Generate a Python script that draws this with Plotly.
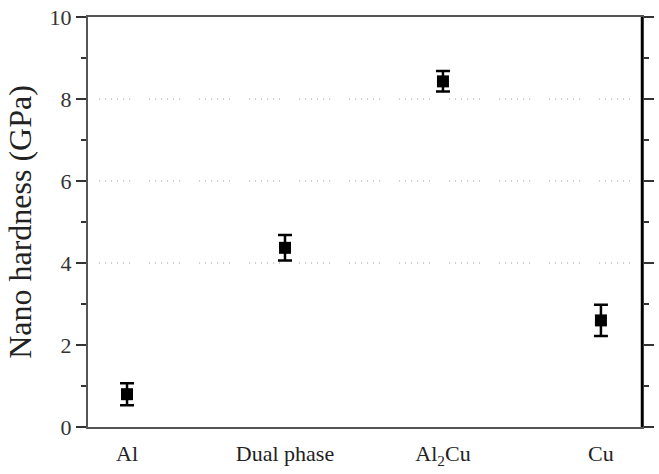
import plotly.graph_objects as go

categories = ["Al", "Dual phase", "Al<sub>2</sub>Cu", "Cu"]
hardness = [0.80, 4.37, 8.43, 2.60]
hardness_err = [0.27, 0.31, 0.25, 0.38]
grid_levels = [4, 6, 8]
y_ticks = [0, 2, 4, 6, 8, 10]

xpos = list(range(len(categories)))

fig = go.Figure()
fig.add_trace(go.Scatter(
    x=xpos, y=hardness, mode="markers",
    marker=dict(symbol="square", size=12, color="black"),
    error_y=dict(type="data", array=hardness_err, visible=True,
                 color="black", thickness=2.5, width=7),
    showlegend=False,
))

dash = "1px,5px,1px,5px,1px,5px,1px,5px,1px,5px,1px,19px"
for g in grid_levels:
    fig.add_shape(type="line", xref="paper", yref="y", x0=0.02, x1=0.985,
                  y0=g, y1=g, line=dict(color="#999999", width=1, dash=dash),
                  layer="below")

# thick black right axis line
fig.add_shape(type="line", xref="paper", yref="paper", x0=1, x1=1, y0=0, y1=1,
              line=dict(color="black", width=2.5))

fig.update_layout(
    width=659, height=474,
    margin=dict(l=88, r=17, t=17, b=47, autoexpand=False),
    paper_bgcolor="white", plot_bgcolor="white",
    font=dict(family="Liberation Serif", color="#222222"),
)
fig.update_xaxes(
    range=[-0.247, 3.26], tickvals=xpos, ticktext=categories,
    showgrid=False, zeroline=False, automargin=False,
    showline=True, linecolor="#555555", linewidth=2, mirror=True,
    ticks="outside", ticklen=6, tickcolor="rgba(0,0,0,0)",
    tickfont=dict(size=22, family="Liberation Serif", color="#222222"),
)
fig.update_yaxes(
    range=[0, 10], tickvals=y_ticks, showgrid=False, zeroline=False,
    automargin=False,
    showline=True, linecolor="#555555", linewidth=2, mirror="ticks",
    ticks="outside", ticklen=10, tickwidth=2, tickcolor="#333333",
    minor=dict(dtick=1, ticks="outside", ticklen=5, tickwidth=2, tickcolor="#333333"),
    tickfont=dict(size=22, family="Liberation Serif", color="#333333"),
    title=dict(text="Nano hardness (GPa)", standoff=8,
               font=dict(size=32, family="Liberation Serif", color="#222222")),
)

fig.write_html("out.html")
